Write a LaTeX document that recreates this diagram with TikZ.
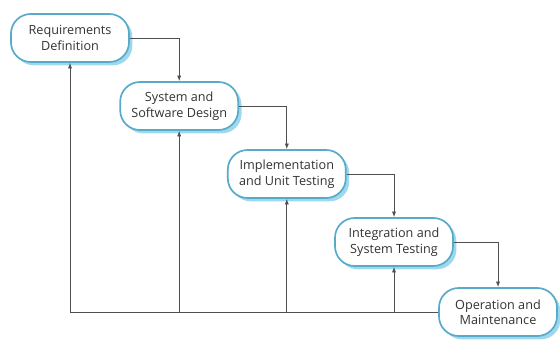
\documentclass[tikz,border=0pt]{standalone}
\usepackage{fontspec}
\setmainfont{Open Sans}
\usepackage{tikz}
\usepackage{xcolor}
\usetikzlibrary{arrows.meta,positioning,shadows}
\definecolor{wfedge}{HTML}{58AACB}
\definecolor{wfshade}{HTML}{9ED8EE}
\definecolor{wftext}{HTML}{333333}
\definecolor{wfline}{HTML}{4F4F4F}

\begin{document}
\begin{tikzpicture}[
  stage/.style={rounded corners=14pt, draw=wfedge, line width=1.2pt, fill=white,
    minimum width=2.95cm, minimum height=1.2cm, align=center, inner sep=1pt,
    font=\fontsize{9}{11}\selectfont\color{wftext},
    drop shadow={fill=wfshade, opacity=1, shadow xshift=2.4pt, shadow yshift=-2.4pt}},
  flow/.style={wfline, line width=0.6pt, -{Latex[length=4pt,width=3pt]}},
]
\useasboundingbox (0,0) rectangle (14,-8.55);
% stages, stepping down to the right
\node[stage] (req) at (1.75,-0.95) {Requirements\\Definition};
\node[stage] (sys) at (4.48,-2.65) {System and\\Software Design};
\node[stage] (imp) at (7.17,-4.35) {Implementation\\and Unit Testing};
\node[stage] (int) at (9.85,-6.05) {Integration and\\System Testing};
\node[stage] (ops) at (12.45,-7.8) {Operation and\\Maintenance};

% forward flow
\draw[flow] (req.east) -| (sys.north);
\draw[flow] (sys.east) -| (imp.north);
\draw[flow] (imp.east) -| (int.north);
\draw[flow] (int.east) -| (ops.north);

% feedback from operation to every earlier stage
\draw[flow] (ops.west) -| (req.south);
\draw[flow] (sys.south |- ops.west) -- (sys.south);
\draw[flow] (imp.south |- ops.west) -- (imp.south);
\draw[flow] (int.south |- ops.west) -- (int.south);
\end{tikzpicture}
\end{document}
